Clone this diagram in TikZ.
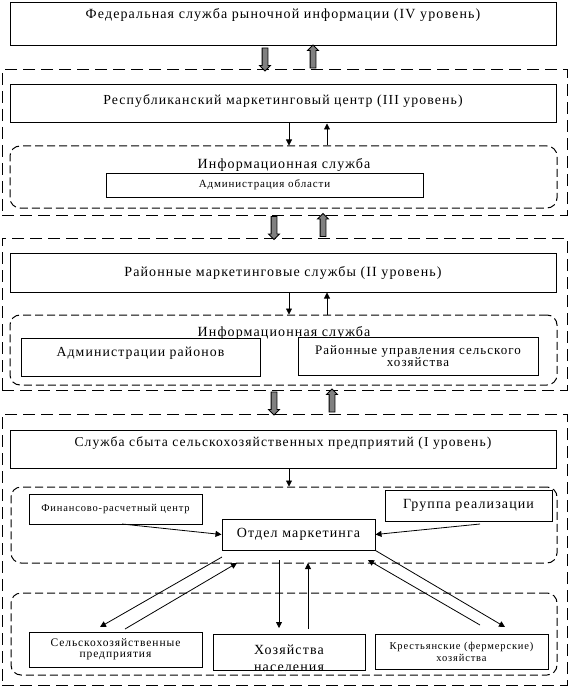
\documentclass[tikz,border=0pt]{standalone}
\usepackage{fontspec}
\setmainfont{Liberation Serif}[LetterSpace=8]
\usetikzlibrary{arrows.meta,shapes.arrows,calc}
\newcommand{\fsize}[2]{\fontsize{#1}{#2}\selectfont}

\tikzset{
  box/.style={draw,fill=white,line width=1pt,inner sep=2pt,align=center},
  lift/.style={text height=9pt,text depth=#1},
  frame/.style={draw,line width=1pt,dash pattern=on 12pt off 6pt,inner sep=0pt},
  infoframe/.style={draw,line width=1pt,dash pattern=on 8pt off 4pt,rounded corners=10pt,inner sep=0pt},
  garrow/.style={single arrow,draw,fill=gray,line width=0.8pt,inner sep=2.5pt,
    single arrow head extend=2.5pt,minimum height=23pt,midway,sloped},
  arr/.style={-{Triangle[length=6pt,width=6pt]},line width=0.8pt},
}

\begin{document}
\begin{tikzpicture}[x=1pt,y=-1pt]
  \useasboundingbox (0,0) rectangle (569,687);

  % frames of the levels
  \node[frame,minimum width=565pt,minimum height=145pt] (fr1) at (284.5,142.5) {};
  \node[frame,minimum width=565pt,minimum height=152pt] (fr2) at (284.5,314) {};
  \node[frame,minimum width=565pt,minimum height=271pt] (fr3) at (284.5,549.5) {};
  \node[infoframe,minimum width=547pt,minimum height=62pt] (in1) at (283.5,177) {};
  \node[infoframe,minimum width=547pt,minimum height=70pt] (in2) at (283.5,350) {};
  \node[infoframe,minimum width=546pt,minimum height=76pt] (in3a) at (284,525) {};
  \node[infoframe,minimum width=546pt,minimum height=82pt] (in3b) at (284,634) {};
  \node[font=\fsize{14}{16}] (inf1) at (284,165) {Информационная служба};
  \node[font=\fsize{14}{16}] (inf2) at (284,333) {Информационная служба};

  % level boxes
  \node[box,lift=20.6pt,minimum width=546pt,minimum height=43pt,font=\fsize{14}{16}] (fed) at (283,24.5)
    {Федеральная служба рыночной информации (IV уровень)};
  \node[box,lift=7.6pt,minimum width=546pt,minimum height=38pt,font=\fsize{13.8}{16}] (rep) at (283,104)
    {Республиканский маркетинговый центр (III уровень)};
  \node[box,minimum width=317pt,minimum height=24pt,font=\fsize{11}{13}] (obl) at (264.5,185)
    {Администрация области};
  \node[box,minimum width=546pt,minimum height=39pt,font=\fsize{14}{16}] (ray) at (283,272.5)
    {Районные маркетинговые службы (II уровень)};
  \node[box,lift=9.6pt,minimum width=239pt,minimum height=38pt,font=\fsize{13.8}{16}] (admr) at (140.5,357)
    {Администрации районов};
  \node[box,minimum width=240pt,minimum height=38pt,font=\fsize{13}{11}] (rupr) at (418,356)
    {Районные управления сельского\\хозяйства};
  \node[box,lift=13.6pt,minimum width=546pt,minimum height=38pt,font=\fsize{13.6}{16}] (sbyt) at (283,449)
    {Служба сбыта сельскохозяйственных предприятий (I уровень)};

  % first level
  \node[box,minimum width=173pt,minimum height=30pt,font=\fsize{10.5}{12}] (fin) at (115.5,509)
    {Финансово-расчетный центр};
  \node[box,minimum width=167pt,minimum height=31pt,font=\fsize{14}{16}] (grup) at (468.5,505.5)
    {Группа реализации};
  \node[box,minimum width=153pt,minimum height=31pt,font=\fsize{14}{16}] (otd) at (298.5,534.5)
    {Отдел маркетинга};
  \node[box,minimum width=173pt,minimum height=35pt,font=\fsize{11.5}{11}] (sel) at (115.5,649.5)
    {Сельскохозяйственные\\предприятия};
  \node[box,minimum width=152pt,minimum height=36pt,
    label={[name=khoztxt,font=\fsize{14}{17},align=center,yshift=-6.5pt]center:Хозяйства\\населения}] (khoz) at (289,652) {};
  \node[box,minimum width=173pt,minimum height=35pt,font=\fsize{10.5}{12}] (krest) at (461.5,651.5)
    {Крестьянские (фермерские)\\хозяйства};

  % gray arrows between levels
  \coordinate (g1d) at (265,0);
  \coordinate (g1u) at (313,0);
  \coordinate (g2d) at (274,0);
  \coordinate (g2u) at (323,0);
  \coordinate (g3u) at (332,0);
  \path (fed.south -| g1d) -- (fr1.north -| g1d) node[garrow] (ga1) {};
  \path (fr1.north -| g1u) -- (fed.south -| g1u) node[garrow] (ga2) {};
  \path (fr1.south -| g2d) -- (fr2.north -| g2d) node[garrow] (ga3) {};
  \path (fr2.north -| g2u) -- (fr1.south -| g2u) node[garrow] (ga4) {};
  \path (fr2.south -| g2d) -- (fr3.north -| g2d) node[garrow] (ga5) {};
  \path (fr3.north -| g3u) -- (fr2.south -| g3u) node[garrow] (ga6) {};

  % thin arrows
  \coordinate (xd) at (289,0);
  \coordinate (xu) at (327,0);
  \draw[arr] (rep.south -| xd) -- (in1.north -| xd);
  \draw[arr] (in1.north -| xu) -- (rep.south -| xu);
  \draw[arr] (ray.south -| xd) -- (in2.north -| xd);
  \draw[arr] (in2.north -| xu) -- (ray.south -| xu);
  \draw[arr] (sbyt.south -| xd) -- (in3a.north -| xd);

  \coordinate (fins) at (122,524);
  \coordinate (grus) at (480,524);
  \draw[arr] (fins) -- (otd.west);
  \draw[arr] (grus) -- (otd.east);

  \coordinate (sl1) at (222,557);
  \coordinate (sl2) at (100,627);
  \coordinate (su1) at (125,629);
  \coordinate (su2) at (237,563);
  \coordinate (hd1) at (279,560);
  \coordinate (hd2) at (279,628);
  \coordinate (hu1) at (308,629);
  \coordinate (hu2) at (308,563);
  \coordinate (kd2) at (505,627);
  \coordinate (ku1) at (480,625);
  \coordinate (ku2) at (368,560);
  \draw[arr] (sl1) -- (sl2);
  \draw[arr] (su1) -- (su2);
  \draw[arr] (hd1) -- (hd2);
  \draw[arr] (hu1) -- (hu2);
  \draw[arr] (otd.south east) -- (kd2);
  \draw[arr] (ku1) -- (ku2);
\end{tikzpicture}
\end{document}
